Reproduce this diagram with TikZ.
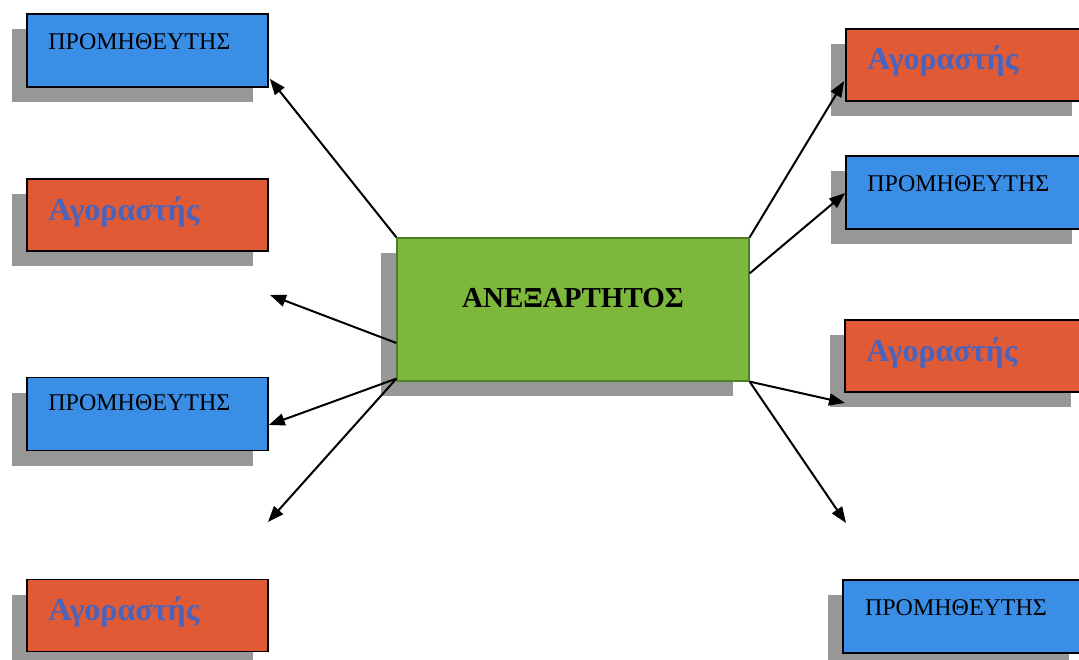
\documentclass[tikz,border=0pt]{standalone}
\usepackage{fontspec}
\setmainfont{Liberation Serif}
\usetikzlibrary{arrows.meta,shadows,calc}
\definecolor{pblue}{HTML}{3A8EE6}
\definecolor{aorange}{HTML}{E05A35}
\definecolor{cgreen}{HTML}{7DB83C}
\definecolor{cgreenb}{HTML}{4F7F28}
\definecolor{tblue}{HTML}{4A64BE}
\definecolor{shgray}{HTML}{979797}
\tikzset{
  boxshadow/.style={drop shadow={shadow xshift=-15pt,shadow yshift=-15pt,fill=shgray,opacity=1}},
  pbox/.style={draw=black,line width=1.6pt,fill=pblue,minimum width=241pt,minimum height=73pt,inner sep=0pt,boxshadow},
  abox/.style={draw=black,line width=1.6pt,fill=aorange,minimum width=241pt,minimum height=72pt,inner sep=0pt,boxshadow},
  cbox/.style={draw=cgreenb,line width=1.2pt,fill=cgreen,minimum width=352pt,minimum height=143pt,inner sep=0pt,
     drop shadow={shadow xshift=-16pt,shadow yshift=-15pt,fill=shgray,opacity=1}},
  ptext/.style={anchor=west,inner sep=0pt,font=\fontsize{24}{28}\selectfont,text=black},
  atext/.style={anchor=west,inner sep=0pt,font=\fontsize{32}{36}\selectfont\bfseries,text=tblue},
  ctext/.style={inner sep=0pt,font=\fontsize{29}{33}\selectfont\bfseries,text=black},
  conn/.style={draw=black,line width=2pt,-{Triangle[length=16pt,width=12pt]}}
}
\begin{document}
\begin{tikzpicture}[x=1pt,y=-1pt]
\clip (0,0) rectangle (1079,660);
\fill[white] (0,0) rectangle (1079,660);
% left column
\node[pbox] (l1) at (147.5,50.5) {};
\node[abox] (l2) at (147.5,215) {};
\node[pbox] (l3) at (147.5,414) {};
\node[abox] (l4) at (147.5,615.5) {};
% right column
\node[abox] (r1) at (966.5,65) {};
\node[pbox] (r2) at (966.5,192.5) {};
\node[abox] (r3) at (965.5,356) {};
\node[pbox,line width=2.4pt] (r4) at (963.5,616.5) {};
% centre
\node[cbox] (c) at (573,309.5) {};
\node[ctext] (ct) at ($(c.center)+(0,-11)$) {ΑΝΕΞΑΡΤΗΤΟΣ};
% texts
\node[ptext] (t1) at ($(l1.west)+(22,-9)$) {ΠΡΟΜΗΘΕΥΤΗΣ};
\node[atext] (t2) at ($(l2.west)+(22,-3)$) {Αγοραστής};
\node[ptext] (t3) at ($(l3.west)+(22,-11)$) {ΠΡΟΜΗΘΕΥΤΗΣ};
\node[atext] (t4) at ($(l4.west)+(22,-3)$) {Αγοραστής};
\node[atext] (t5) at ($(r1.west)+(22,-4)$) {Αγοραστής};
\node[ptext] (t6) at ($(r2.west)+(22,-9)$) {ΠΡΟΜΗΘΕΥΤΗΣ};
\node[atext] (t7) at ($(r3.west)+(22,-3)$) {Αγοραστής};
\node[ptext] (t8) at ($(r4.west)+(23,-9)$) {ΠΡΟΜΗΘΕΥΤΗΣ};
% connector ends
\coordinate (e1) at ($(l1.south east)+(1,-9)$);
\coordinate (e2) at (270,295);
\coordinate (e3) at ($(l3.east)+(0,11)$);
\coordinate (e4) at (268,522);
\coordinate (e5) at ($(r1.west)+(-1,16)$);
\coordinate (e6) at ($(r2.west)+(0,0.5)$);
\coordinate (e7) at (845,403);
\coordinate (e8) at (846,523);
\coordinate (s2) at ($(c.west)+(0,33.5)$);
\coordinate (s3) at ($(c.south west)+(0,-3)$);
\coordinate (s6) at ($(c.north east)+(0,36)$);
% connectors
\draw[conn] (c.north west) -- (e1);
\draw[conn] (s2) -- (e2);
\draw[conn] (s3) -- (e3);
\draw[conn] (s3) -- (e4);
\draw[conn] (c.north east) -- (e5);
\draw[conn] (s6) -- (e6);
\draw[conn] (c.south east) -- (e7);
\draw[conn] (c.south east) -- (e8);
\end{tikzpicture}
\end{document}
